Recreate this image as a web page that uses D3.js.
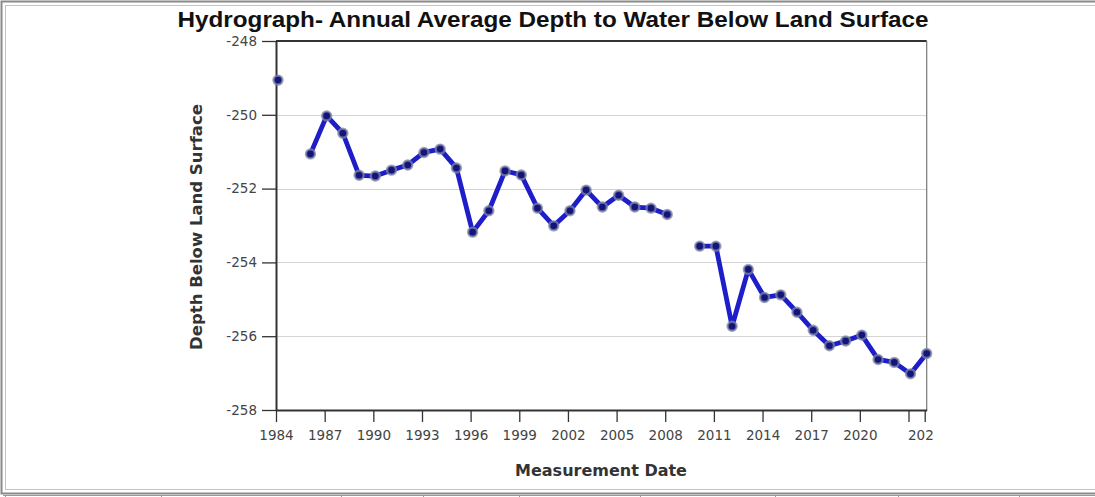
<!DOCTYPE html>
<html>
<head>
<meta charset="utf-8">
<script src="https://cdn.jsdelivr.net/npm/d3@7"></script>
<style>
  body { margin: 0; background: #fff; }
  svg { display: block; }
</style>
</head>
<body>
<script>
// annual average depth readings (null = no reading that year)
var years = [1984, 1985, 1986, 1987, 1988, 1989, 1990, 1991, 1992, 1993, 1994, 1995,
             1996, 1997, 1998, 1999, 2000, 2001, 2002, 2003, 2004, 2005, 2006, 2007,
             2008, 2009, 2010, 2011, 2012, 2013, 2014, 2015, 2016, 2017, 2018, 2019,
             2020, 2021, 2022, 2023, 2024];
var depths = [-249.06, null, -251.06, -250.03, -250.5, -251.64, -251.66, -251.5, -251.36, -251.02, -250.93, -251.44,
              -253.18, -252.6, -251.52, -251.63, -252.53, -253.01, -252.6, -252.04, -252.5, -252.18, -252.5, -252.53,
              -252.7, null, -253.56, -253.56, -255.73, -254.19, -254.95, -254.88, -255.35, -255.84, -256.26, -256.13,
              -255.97, -256.63, -256.71, -257.02, -256.47];

var yTicks = [-248, -250, -252, -254, -256, -258];
var yGrid = [-250, -252, -254, -256];
var xTickYears = [1984, 1987, 1990, 1993, 1996, 1999, 2002, 2005, 2008, 2011, 2014, 2017, 2020, 2023, 2024];
var xTickLabels = ["1984", "1987", "1990", "1993", "1996", "1999", "2002", "2005", "2008", "2011", "2014", "2017", "2020", "", "2024"];
var tableCols = [5, 161, 341, 423, 519, 640, 775, 898, 1019];

var W = 1095, H = 497;
var margin = {top: 41, left: 276},
    width = 650.7,
    height = 369;

var data = years.map(function(y, i) {
  return {date: new Date(y, 1, 15), value: depths[i]};
});

var svg = d3.select("body").append("svg")
    .attr("width", W)
    .attr("height", H);

// page frame
svg.append("rect").attr("x", 1.5).attr("y", 1.5).attr("width", W + 10).attr("height", 492)
    .attr("fill", "none").attr("stroke", "#8a8a8a").attr("stroke-width", 2);
svg.append("rect").attr("x", 5.5).attr("y", 5.5).attr("width", W + 10).attr("height", 484)
    .attr("fill", "none").attr("stroke", "#c4c4c4").attr("stroke-width", 1);
svg.append("line").attr("x1", 3).attr("x2", W).attr("y1", 495.5).attr("y2", 495.5)
    .attr("stroke", "#999");
svg.selectAll(".tcol").data(tableCols).enter().append("line")
    .attr("x1", d => d + 0.5).attr("x2", d => d + 0.5)
    .attr("y1", 495).attr("y2", H)
    .attr("stroke", "#999");

// chart area, clipped like the original
var chart = svg.append("svg")
    .attr("width", 934).attr("height", 490)
    .attr("overflow", "hidden");

chart.append("text")
    .attr("x", 553).attr("y", 27)
    .attr("text-anchor", "middle")
    .attr("textLength", 751)
    .attr("lengthAdjust", "spacingAndGlyphs")
    .style("font-family", "'Liberation Sans', Arial, sans-serif")
    .style("font-weight", "bold")
    .style("font-size", "22.5px")
    .attr("fill", "#111")
    .text("Hydrograph- Annual Average Depth to Water Below Land Surface");

var g = chart.append("g")
    .attr("transform", "translate(" + margin.left + "," + margin.top + ")");

var x = d3.scaleTime()
    .domain([new Date(1984, 0, 1), new Date(2024, 1, 15)])
    .range([0, width]);
var y = d3.scaleLinear().domain([-258, -248]).range([height, 0]);

// gridlines
g.selectAll(".grid").data(yGrid).enter().append("line")
    .attr("x1", 0).attr("x2", width)
    .attr("y1", d => Math.round(y(d)) + 0.5).attr("y2", d => Math.round(y(d)) + 0.5)
    .attr("stroke", "#d4d4d4");

// plot box top and right
g.append("line").attr("x1", 0).attr("x2", width).attr("y1", 0).attr("y2", 0)
    .attr("stroke", "#333").attr("stroke-width", 2);
g.append("line").attr("x1", width).attr("x2", width).attr("y1", 0).attr("y2", height)
    .attr("stroke", "#777").attr("stroke-width", 1.2);

// x axis
var xAxis = g.append("g")
    .attr("transform", "translate(0," + height + ")")
    .call(d3.axisBottom(x)
      .tickValues(xTickYears.map(yr => new Date(yr, 0, 1)))
      .tickFormat((d, i) => xTickLabels[i])
      .tickSize(12).tickSizeOuter(0).tickPadding(8));
xAxis.select(".domain").attr("stroke", "#333").attr("stroke-width", 2);
xAxis.selectAll(".tick line").attr("stroke", "#333").attr("stroke-width", 1.3);
xAxis.selectAll(".tick text")
    .style("font-family", "'DejaVu Sans', sans-serif")
    .style("font-size", "13.5px")
    .attr("fill", "#444");

// y axis
var yAxis = g.append("g")
    .call(d3.axisLeft(y)
      .tickValues(yTicks)
      .tickFormat(d3.format("d"))
      .tickSize(14).tickSizeOuter(0).tickPadding(5));
yAxis.select(".domain").attr("stroke", "#333").attr("stroke-width", 2);
yAxis.selectAll(".tick line").attr("stroke", "#333").attr("stroke-width", 1.3);
yAxis.selectAll(".tick text")
    .text(d => String(d))
    .style("font-family", "'DejaVu Sans', sans-serif")
    .style("font-size", "13.5px")
    .attr("fill", "#444");

// axis titles
chart.append("text")
    .attr("transform", "translate(202,227) rotate(-90)")
    .attr("text-anchor", "middle")
    .style("font-family", "'DejaVu Sans', sans-serif")
    .style("font-weight", "bold")
    .style("font-size", "16.5px")
    .attr("fill", "#333")
    .text("Depth Below Land Surface");

chart.append("text")
    .attr("x", 601).attr("y", 476)
    .attr("text-anchor", "middle")
    .style("font-family", "'DejaVu Sans', sans-serif")
    .style("font-weight", "bold")
    .style("font-size", "16px")
    .attr("fill", "#333")
    .text("Measurement Date");

// series
var line = d3.line()
    .defined(d => d.value !== null)
    .x(d => x(d.date))
    .y(d => y(d.value));

g.append("path")
    .datum(data)
    .attr("fill", "none")
    .attr("stroke", "#1d1dc9")
    .attr("stroke-width", 4.8)
    .attr("stroke-linejoin", "round")
    .attr("d", line);

g.selectAll(".pt").data(data.filter(d => d.value !== null)).enter().append("circle")
    .attr("cx", d => x(d.date))
    .attr("cy", d => y(d.value))
    .attr("r", 4.5)
    .attr("fill", "#14147a")
    .attr("stroke", "rgba(125,135,165,0.75)")
    .attr("stroke-width", 2.4);
</script>
</body>
</html>
